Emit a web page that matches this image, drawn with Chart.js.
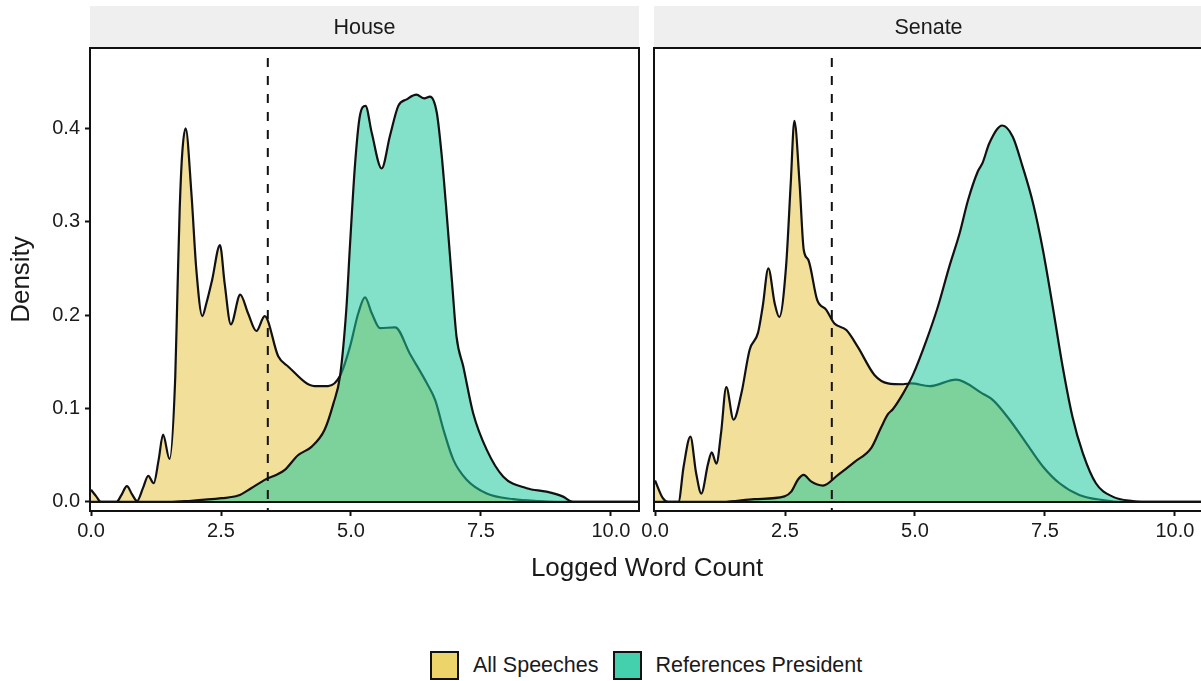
<!DOCTYPE html>
<html>
<head>
<meta charset="utf-8">
<script src="https://cdn.jsdelivr.net/npm/chart.js@4.4.1/dist/chart.umd.min.js"></script>
<style>
  body { margin: 0; background: #fff; width: 1201px; height: 681px; overflow: hidden; position: relative;
         font-family: "Liberation Sans", Arial, sans-serif; color: #1a1a1a; }
  #house { position: absolute; left: 0; top: 0; }
  #senate { position: absolute; left: 620px; top: 0; }
  #xtitle { position: absolute; left: 447px; width: 400px; top: 552px; text-align: center;
            font-size: 26px; line-height: 30px; }
  #legend { position: absolute; left: 430px; top: 651px; display: flex; align-items: center;
            font-size: 21.5px; line-height: 29px; }
  #legend .key { width: 29px; height: 29px; border: 2px solid #111; box-sizing: border-box; margin-right: 14px; }
  #legend .lab { margin-right: 14px; }
</style>
</head>
<body>
<canvas id="house" width="645" height="560"></canvas>
<canvas id="senate" width="585" height="560"></canvas>
<div id="xtitle">Logged Word Count</div>
<div id="legend"></div>
<script>
// facets, series and axes
const panelNames = ['House', 'Senate'];
const seriesNames = ['All Speeches', 'References President'];
const keyColors = ['#EDD46A', '#45D0AD'];
const xTicks = [0, 2.5, 5, 7.5, 10];
const yTicks = [0, 0.1, 0.2, 0.3, 0.4];
const cutoff = 3.4;

// House - All Speeches
const houseAllX = [0, 0.10, 0.19, 0.49, 0.58, 0.69, 0.79, 0.885, 1.00, 1.10, 1.205, 1.30, 1.385, 1.51, 1.62, 1.66,
  1.705, 1.755, 1.82, 1.93, 2.025, 2.14, 2.22, 2.33, 2.48, 2.57, 2.69, 2.87, 3.02, 3.18, 3.34, 3.60, 3.79, 4.30,
  4.56, 4.79, 4.98, 5.14, 5.27, 5.40, 5.56, 5.85, 6.13, 6.46, 6.62, 6.78, 6.97, 7.22, 7.61, 8.12, 8.63, 9.2, 10.54];
const houseAllY = [0.013, 0.006, 0, 0, 0.007, 0.017, 0.008, 0.001, 0.015, 0.028, 0.020, 0.045, 0.072, 0.046, 0.134, 0.220,
  0.313, 0.374, 0.400, 0.331, 0.249, 0.199, 0.213, 0.238, 0.275, 0.234, 0.190, 0.222, 0.202, 0.183, 0.199, 0.156, 0.145, 0.124,
  0.124, 0.135, 0.166, 0.202, 0.219, 0.202, 0.186, 0.187, 0.159, 0.127, 0.109, 0.077, 0.045, 0.024, 0.009, 0.003, 0.001, 0, 0];

// House - References President
const housePresX = [0, 1.50, 1.87, 2.51, 2.83, 3.08, 3.34, 3.72, 3.98, 4.24, 4.49, 4.66, 4.79, 4.91, 4.98, 5.08, 5.17,
  5.28, 5.40, 5.59, 5.75, 5.91, 6.07, 6.26, 6.41, 6.52, 6.65, 6.74, 6.84, 6.94, 7.03, 7.16, 7.35, 7.61, 7.93, 8.38,
  8.76, 9.08, 9.27, 10.54];
const housePresY = [0, 0, 0.001, 0.004, 0.0068, 0.0147, 0.0236, 0.034, 0.050, 0.059, 0.077, 0.105, 0.135, 0.206, 0.274, 0.363, 0.413,
  0.424, 0.395, 0.357, 0.392, 0.424, 0.431, 0.436, 0.432, 0.434, 0.417, 0.374, 0.309, 0.238, 0.177, 0.145, 0.095, 0.056, 0.027, 0.0147,
  0.011, 0.0057, 0, 0];

// Senate - All Speeches
const senateAllX = [0, 0.15, 0.25, 0.45, 0.55, 0.68, 0.79, 0.89, 1.02, 1.09, 1.18, 1.27, 1.37, 1.51, 1.66, 1.82, 1.98,
  2.07, 2.18, 2.30, 2.39, 2.52, 2.61, 2.68, 2.78, 2.86, 2.95, 3.12, 3.29, 3.45, 3.68, 3.90, 4.22, 4.48, 4.77, 4.93,
  5.28, 5.79, 6.30, 6.50, 6.82, 7.14, 7.46, 7.78, 8.16, 8.61, 9.0, 10.54];
const senateAllY = [0.023, 0.004, 0, 0, 0.038, 0.070, 0.031, 0.009, 0.041, 0.053, 0.041, 0.074, 0.123, 0.088, 0.116, 0.163, 0.181,
  0.209, 0.250, 0.213, 0.198, 0.252, 0.341, 0.408, 0.341, 0.270, 0.259, 0.216, 0.206, 0.191, 0.184, 0.166, 0.136, 0.127, 0.126, 0.127,
  0.124, 0.131, 0.116, 0.109, 0.088, 0.063, 0.038, 0.020, 0.0075, 0.002, 0, 0];

// Senate - References President
const senatePresX = [0, 1.30, 1.91, 2.49, 2.62, 2.75, 2.86, 3.00, 3.23, 3.52, 3.84, 4.16, 4.35, 4.48, 4.57, 4.77, 4.96,
  5.22, 5.44, 5.66, 5.86, 6.02, 6.21, 6.30, 6.43, 6.68, 6.88, 7.07, 7.27, 7.46, 7.65, 7.84, 8.03, 8.23, 8.48, 8.80,
  9.19, 9.6, 10.54];
const senatePresY = [0, 0, 0.003, 0.006, 0.011, 0.024, 0.029, 0.022, 0.0175, 0.029, 0.043, 0.058, 0.080, 0.094, 0.099, 0.116, 0.136,
  0.173, 0.209, 0.252, 0.288, 0.323, 0.354, 0.363, 0.384, 0.403, 0.391, 0.359, 0.320, 0.270, 0.209, 0.145, 0.091, 0.052, 0.020, 0.0057,
  0.001, 0, 0];

Chart.defaults.font.family = '"Liberation Sans", Arial, sans-serif';
Chart.defaults.color = '#1a1a1a';

const ink = '#111';

// strip, panel border, zero line and dashed cutoff
const panelDeco = {
  id: 'panelDeco',
  beforeDraw(chart, args, opts) {
    const { ctx, chartArea: a } = chart;
    ctx.save();
    ctx.fillStyle = '#EFEFEF';
    ctx.fillRect(a.left, 6, a.right - a.left, a.top - 6);
    ctx.fillStyle = '#1a1a1a';
    ctx.font = '21.5px "Liberation Sans", Arial, sans-serif';
    ctx.textAlign = 'center';
    ctx.textBaseline = 'middle';
    ctx.fillText(opts.label, (a.left + a.right) / 2, (6 + a.top) / 2 + 1);
    ctx.restore();
  },
  afterDatasetsDraw(chart, args, opts) {
    const { ctx, chartArea: a, scales } = chart;
    ctx.save();
    const y0 = scales.y.getPixelForValue(0);
    ctx.strokeStyle = ink;
    ctx.lineWidth = 2;
    ctx.beginPath();
    ctx.moveTo(a.left, y0);
    ctx.lineTo(a.right, y0);
    ctx.stroke();

    const xc = scales.x.getPixelForValue(opts.cutoff);
    ctx.setLineDash([9, 9]);
    ctx.beginPath();
    ctx.moveTo(xc, a.top + 10);
    ctx.lineTo(xc, a.bottom);
    ctx.stroke();
    ctx.setLineDash([]);

    ctx.lineWidth = 2;
    ctx.strokeRect(a.left, a.top, a.right - a.left, a.bottom - a.top);
    ctx.restore();
  }
};

function pts(xs, ys) {
  return xs.map((x, i) => ({ x: x, y: ys[i] }));
}

function makeChart(id, label, allX, allY, presX, presY, showY, padLeft, padRight) {
  return new Chart(document.getElementById(id), {
    type: 'line',
    data: {
      datasets: [
        {
          label: seriesNames[1],
          data: pts(presX, presY),
          backgroundColor: 'rgba(30,200,158,0.55)',
          borderColor: ink,
          borderWidth: 2.2,
          fill: 'origin',
          pointRadius: 0,
          cubicInterpolationMode: 'monotone',
          order: 1
        },
        {
          label: seriesNames[0],
          data: pts(allX, allY),
          backgroundColor: 'rgba(233,200,80,0.58)',
          borderColor: ink,
          borderWidth: 2.2,
          fill: 'origin',
          pointRadius: 0,
          cubicInterpolationMode: 'monotone',
          order: 2
        }
      ]
    },
    options: {
      responsive: false,
      animation: false,
      layout: { padding: { top: 48, left: padLeft, right: padRight, bottom: 0 } },
      plugins: {
        legend: { display: false },
        tooltip: { enabled: false },
        panelDeco: { label: label, cutoff: cutoff }
      },
      scales: {
        x: {
          type: 'linear',
          min: -0.02,
          max: 10.54,
          afterBuildTicks: s => { s.ticks = xTicks.map(v => ({ value: v })); },
          afterFit: s => { s.height = 49; s.paddingLeft = 0; s.paddingRight = 0; },
          ticks: { callback: v => v.toFixed(1), font: { size: 20 }, padding: 3, maxRotation: 0, minRotation: 0, autoSkip: false },
          grid: { drawOnChartArea: false, tickLength: 5, tickWidth: 2, tickColor: ink },
          border: { display: false }
        },
        y: {
          display: showY,
          min: -0.0097,
          max: 0.486,
          afterBuildTicks: s => { s.ticks = yTicks.map(v => ({ value: v })); },
          afterFit: s => { s.width = showY ? 90 : 0; s.paddingTop = 0; s.paddingBottom = 0; },
          ticks: { callback: v => v.toFixed(1), font: { size: 20 }, padding: 5, autoSkip: false },
          grid: { drawOnChartArea: false, tickLength: 5, tickWidth: 2, tickColor: ink },
          border: { display: false },
          title: { display: true, text: 'Density', font: { size: 26 }, padding: { top: 6, bottom: 0 } }
        }
      }
    },
    plugins: [panelDeco]
  });
}

makeChart('house', panelNames[0], houseAllX, houseAllY, housePresX, housePresY, true, 0, 6);
makeChart('senate', panelNames[1], senateAllX, senateAllY, senatePresX, senatePresY, false, 34, 2);

// legend
const legend = document.getElementById('legend');
seriesNames.forEach((name, i) => {
  const key = document.createElement('div');
  key.className = 'key';
  key.style.background = keyColors[i];
  const lab = document.createElement('div');
  lab.className = 'lab';
  lab.textContent = name;
  legend.appendChild(key);
  legend.appendChild(lab);
});
</script>
</body>
</html>
